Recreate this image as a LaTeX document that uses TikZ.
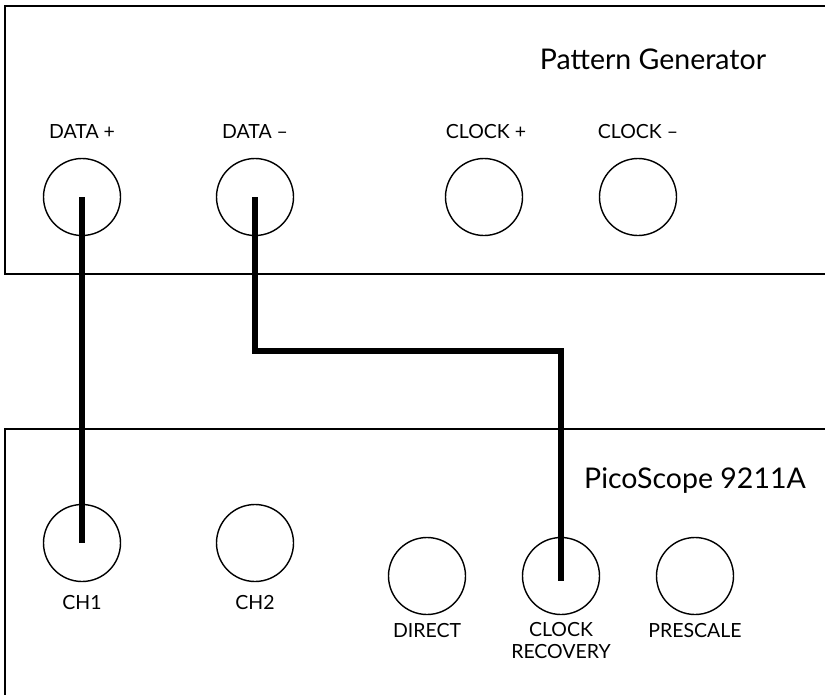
\documentclass[tikz,border=0pt]{standalone}
\usepackage{fontspec}
\setmainfont{Lato}
\begin{document}
\begin{tikzpicture}[x=1pt,y=-1pt,
  panel/.style={draw=black,line width=2pt},
  jack/.style={draw=black,circle,line width=1.4pt,minimum size=77pt,inner sep=0pt},
  lbl/.style={font=\fontsize{19.5}{22}\selectfont,inner sep=0pt,align=center},
  title/.style={font=\fontsize{28.5}{31}\selectfont,inner sep=0pt},
  wire/.style={draw=black,line width=6pt,line join=miter}]
\useasboundingbox (0,0) rectangle (825,694);
\clip (0,0) rectangle (825,694);
% panels
\draw[panel] (840,6) -- (5,6) -- (5,274) -- (840,274);
\draw[panel] (840,429) -- (5,429) -- (5,710);
% pattern generator
\node[title] (pg) at (653,59) {Pattern Generator};
\node[jack] (dp) at (82,197) {};
\node[jack] (dm) at (255,197) {};
\node[jack] (cp) at (484,197) {};
\node[jack] (cm) at (638,197) {};
\node[lbl] (ldp) at (82,132) {DATA +};
\node[lbl] (ldm) at (255,132) {DATA –};
\node[lbl] (lcp) at (486,132) {CLOCK +};
\node[lbl] (lcm) at (638,132) {CLOCK –};
% picoscope
\node[title] (ps) at (695,481) {PicoScope 9211A};
\node[jack] (ch1) at (82,543) {};
\node[jack] (ch2) at (255,543) {};
\node[jack] (dir) at (427,576) {};
\node[jack] (cr) at (561,576) {};
\node[jack] (pre) at (695,576) {};
\node[lbl] (lch1) at (82,603) {CH1};
\node[lbl] (lch2) at (255,603) {CH2};
\node[lbl] (ldir) at (427,631) {DIRECT};
\node[lbl,anchor=north] (lcr) at (561,622) {CLOCK\\RECOVERY};
\node[lbl] (lpre) at (695,631) {PRESCALE};
% wires
\coordinate (bend) at (255,351);
\coordinate (crend) at (561,581);
\draw[wire] (dp.center) -- (ch1.center);
\draw[wire] (dm.center) -- (bend) -| (crend);
\end{tikzpicture}
\end{document}
